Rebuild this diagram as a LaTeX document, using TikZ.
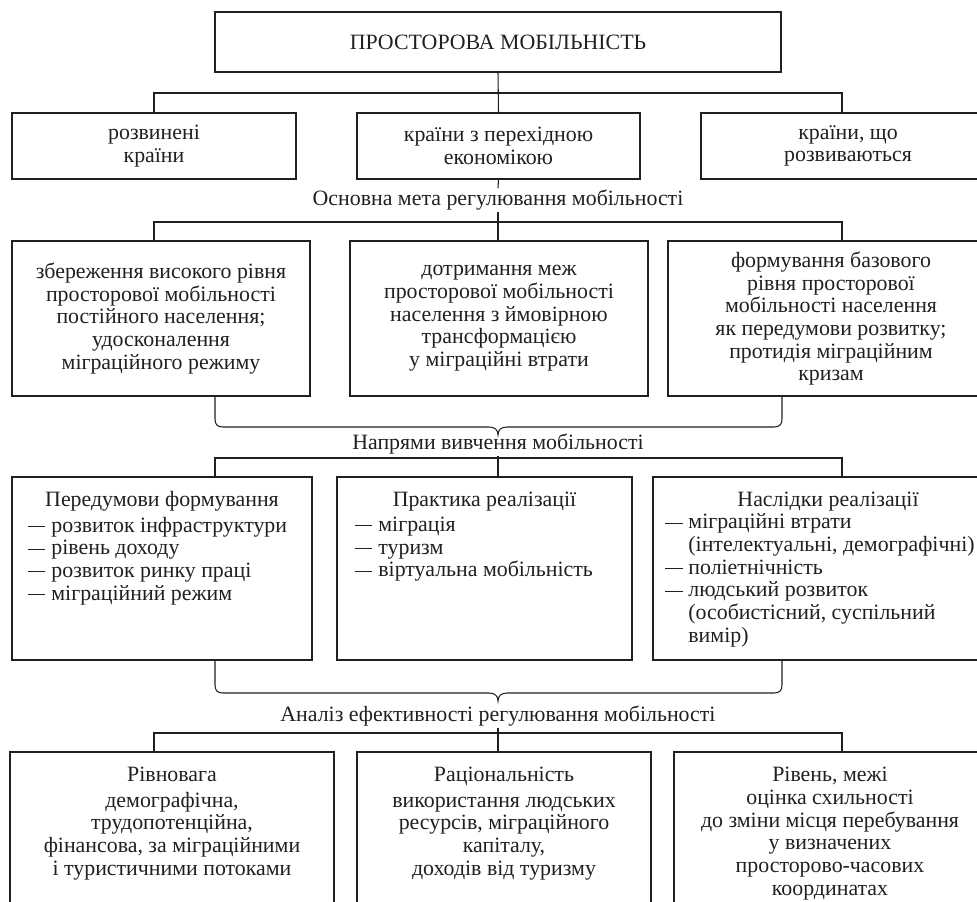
\documentclass[tikz,border=0pt]{standalone}
\usepackage{fontspec}
\setmainfont{Liberation Serif}
\definecolor{ink}{HTML}{231F20}
\tikzset{
  box/.style={draw=ink, line width=0.8pt, anchor=north west, inner sep=0pt, outer sep=0pt, align=center, text=ink},
  mainbox/.style={box, line width=2pt},
  lab/.style={inner sep=1pt, text=ink},
  wire/.style={draw=ink, line width=0.8pt},
}
\newcommand\dsh{\raisebox{0.23em}{\rule{0.8em}{0.055em}}}
\newcommand\itm[1]{\par\hangindent=1.07em\hangafter=1\noindent\makebox[1.07em][l]{\dsh}#1}
\newcommand\tb[4]{\parbox[c][#2][t]{#1}{\vspace*{#3}#4}}
\begin{document}
\begin{tikzpicture}[x=0.75pt,y=-0.75pt, font=\fontsize{16.4}{17}\selectfont]
\useasboundingbox (0,0) rectangle (977,901);
\clip (0,0) rectangle (977,901);

% top
\node[mainbox, minimum width=424.5pt, minimum height=45pt] (top) at (215,12) {ПРОСТОРОВА МОБІЛЬНІСТЬ};

% row 1
\node[box, minimum width=213pt, minimum height=49.5pt] (b11) at (12,113) {розвинені\\країни};
\node[box, minimum width=212.25pt, minimum height=49.5pt] (b12) at (357,113) {країни з перехідною\\економікою};
\node[box, minimum width=220.5pt, minimum height=49.5pt] (b13) at (701,113) {країни, що\\розвиваються};

% label 1
\node[lab] (L1) at (498,200) {Основна мета регулювання мобільності};

% row 2
\node[box, minimum width=223.5pt, minimum height=116.25pt] (b21) at (12,241) {збереження високого рівня\\просторової мобільності\\постійного населення;\\удосконалення\\міграційного режиму};
\node[box, minimum width=223.5pt, minimum height=116.25pt] (b22) at (350,241) {дотримання меж\\просторової мобільності\\населення з ймовірною\\трансформацією\\у міграційні втрати};
\node[box, minimum width=244.5pt, minimum height=116.25pt] (b23) at (668,241) {формування базового\\рівня просторової\\мобільності населення\\як передумови розвитку;\\протидія міграційним\\кризам};

% label 2
\node[lab] (L2) at (498,444) {Напрями вивчення мобільності};

% row 3
\node[box, minimum width=225pt, minimum height=137.25pt] (b31) at (12,477)
 {\tb{225pt}{137.25pt}{11pt}{\centering Передумови формування\par\vspace{2pt}\raggedright\leftskip=12pt
 \itm{розвиток інфраструктури}\itm{рівень доходу}\itm{розвиток ринку праці}\itm{міграційний режим}}};
\node[box, minimum width=221.25pt, minimum height=137.25pt] (b32) at (337,477)
 {\tb{221.25pt}{137.25pt}{11pt}{\centering Практика реалізації\par\vspace{2pt}\raggedright\leftskip=13.5pt
 \itm{міграція}\itm{туризм}\itm{віртуальна мобільність}}};
\node[box, minimum width=262.5pt, minimum height=137.25pt] (b33) at (653,477)
 {\tb{262.5pt}{137.25pt}{11pt}{\centering Наслідки реалізації\par\raggedright\leftskip=9pt
 \itm{міграційні втрати\newline(інтелектуальні, демографічні)}\itm{поліетнічність}\itm{людський розвиток\newline(особистісний, суспільний\newline вимір)}}};

% label 3
\node[lab] (L3) at (498,716) {Аналіз ефективності регулювання мобільності};

% row 4
\node[box, minimum width=243pt, minimum height=141pt] (b41) at (10,752)
 {\tb{243pt}{141pt}{11.5pt}{\centering Рівновага\par\vspace{2pt}демографічна,\\трудопотенційна,\\фінансова, за міграційними\\і туристичними потоками}};
\node[box, minimum width=220.5pt, minimum height=141pt] (b42) at (357,752)
 {\tb{220.5pt}{141pt}{11.5pt}{\centering Раціональність\par\vspace{2pt}використання людських\\ресурсів, міграційного\\капіталу,\\доходів від туризму}};
\node[box, minimum width=234pt, minimum height=141pt] (b43) at (674,752)
 {\tb{234pt}{141pt}{11.5pt}{\centering Рівень, межі\\оцінка схильності\\до зміни місця перебування\\у визначених\\просторово-часових\\координатах}};

% connector coordinates
\coordinate (j1) at (498,93);
\coordinate (r1) at (842,113);
\coordinate (m2) at (498,241);
\coordinate (j2) at (498,222);
\coordinate (l2) at (154,241);
\coordinate (r2) at (842,241);
\coordinate (bl1) at (215,396);
\coordinate (br1) at (782,396);
\coordinate (t1) at (498,435);
\coordinate (m3) at (498,477);
\coordinate (j3) at (498,458);
\coordinate (l3) at (215,477);
\coordinate (r3) at (842,477);
\coordinate (bl2) at (215,660);
\coordinate (br2) at (782,660);
\coordinate (t2) at (498,701);
\coordinate (m4) at (498,752);
\coordinate (j4) at (498,733);
\coordinate (l4) at (154,752);
\coordinate (r4) at (842,752);

% row 1 bus
\draw[wire] (top.south) -- (b12.north);
\draw[wire] (b11.north) |- (j1) -| (r1);
% row 2 bus
\draw[wire] (b12.south) -- (L1.north);
\draw[wire] (L1.south) -- (m2);
\draw[wire] (l2) |- (j2) -| (r2);
% brace 1
\draw[wire] (bl1) -- (215,419) .. controls (215,424) and (217,427) .. (223,427) -- (489,427)
  .. controls (495,427) and (498,430) .. (t1) .. controls (498,430) and (501,427) .. (507,427)
  -- (774,427) .. controls (780,427) and (782,424) .. (782,419) -- (br1);
% row 3 bus
\draw[wire] (L2.south) -- (m3);
\draw[wire] (l3) |- (j3) -| (r3);
% brace 2
\draw[wire] (bl2) -- (215,685) .. controls (215,690) and (217,693) .. (223,693) -- (489,693)
  .. controls (495,693) and (498,696) .. (t2) .. controls (498,696) and (501,693) .. (507,693)
  -- (774,693) .. controls (780,693) and (782,690) .. (782,685) -- (br2);
% row 4 bus
\draw[wire] (L3.south) -- (m4);
\draw[wire] (l4) |- (j4) -| (r4);
\end{tikzpicture}
\end{document}
